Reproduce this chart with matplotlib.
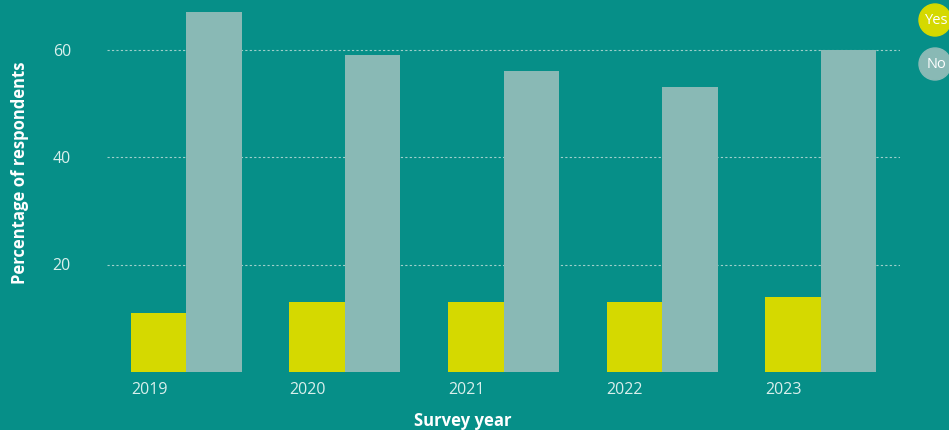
import matplotlib
matplotlib.use('Agg')
import matplotlib.pyplot as plt
from matplotlib.patches import Ellipse
import numpy as np

years = ['2019', '2020', '2021', '2022', '2023']
yes_pct = [11, 13, 13, 13, 14]
no_pct = [67, 59, 56, 53, 60]
y_ticks = [20, 40, 60]

bg = '#068f88'
yes_col = '#d5d900'
no_col = '#89b9b5'
txt = '#d9efec'

plt.rcParams['font.family'] = ['Open Sans', 'DejaVu Sans']

fig = plt.figure(figsize=(9.49, 4.30), dpi=100, facecolor=bg)
ax = fig.add_axes([107/949, 1 - 372/430, (900 - 107)/949, 372/430])
ax.set_facecolor(bg)

x = np.arange(len(years))
w = 0.35
ax.bar(x - w/2, yes_pct, width=w, color=yes_col, zorder=3)
ax.bar(x + w/2, no_pct, width=w, color=no_col, zorder=3)

ax.set_xlim(-0.5, 4.5)
ax.set_ylim(0, 372/5.375)
ax.set_yticks(y_ticks)
ax.yaxis.grid(True, linestyle=(0, (2, 2)), color='#9fd0cb', linewidth=0.8, zorder=0)

ax.set_xticks(x - w)
ax.set_xticklabels(years, ha='left')
ax.tick_params(axis='both', length=0, colors=txt, labelsize=11.5)
ax.tick_params(axis='x', pad=7)
ax.tick_params(axis='y', pad=26)
for s in ax.spines.values():
    s.set_visible(False)

fig.text(20/949, 1 - 173/430, 'Percentage of respondents', rotation=90,
         ha='center', va='center', color='white', fontsize=12, fontweight='bold')
fig.text(463/949, 1 - 421/430, 'Survey year', ha='center', va='center',
         color='white', fontsize=12, fontweight='bold')

# round legend keys at the right edge
for cy, col, lab in [(20, yes_col, 'Yes'), (64, no_col, 'No')]:
    fig.add_artist(Ellipse((935/949, 1 - cy/430), 32/949, 32/430,
                           transform=fig.transFigure, color=col, clip_on=False))
    fig.text(937/949, 1 - cy/430, lab, ha='center', va='center',
             color='white', fontsize=10.5)

fig.savefig('out.png', dpi=100, facecolor=bg)
